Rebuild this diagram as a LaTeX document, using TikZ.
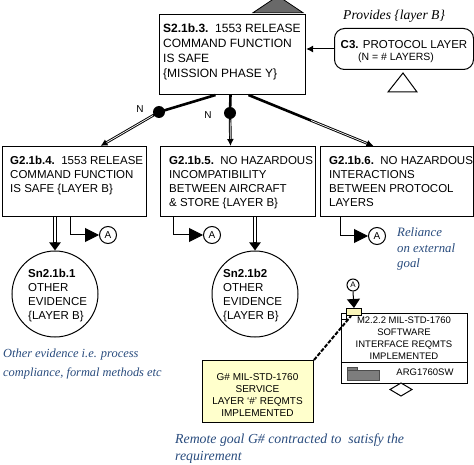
\documentclass[tikz,border=0pt]{standalone}
\usepackage{fontspec}
\setmainfont{Liberation Sans}
\newfontfamily\annfont{Liberation Serif}
\usetikzlibrary{arrows.meta,shapes.geometric,calc}
\definecolor{annblue}{RGB}{40,75,125}
\definecolor{paleyellow}{RGB}{255,255,204}
\definecolor{tagyellow}{RGB}{250,245,185}
\definecolor{foldergray}{RGB}{125,125,125}
\definecolor{undevgray}{RGB}{105,105,105}
\begin{document}
\begin{tikzpicture}[x=1pt,y=-1pt,
  boxline/.style={draw, line width=1pt, rectangle, anchor=north west, inner sep=0pt},
  stext/.style={anchor=north west, inner sep=0pt, align=left, font=\fontsize{12}{15}\selectfont},
  gtext/.style={anchor=north west, inner sep=0pt, align=left, font=\fontsize{11.5}{14}\selectfont},
  ann/.style={anchor=north west, inner sep=0pt, align=left, font=\annfont\itshape\fontsize{12.4}{19}\selectfont},
  sv/.style={line width=2.6pt},
  stripe/.style={white, line width=0.7pt},
  solvedtip/.style={-{Latex[length=7pt,width=7pt]}},
  dotn/.style={circle, fill=black, minimum size=12pt, inner sep=0pt},
  nlab/.style={inner sep=0pt, font=\fontsize{10}{12}\selectfont},
  anode/.style={draw, circle, line width=1pt, minimum size=17pt, inner sep=0pt, font=\fontsize{10}{12}\selectfont},
  aconn/.style={line width=1pt, -{Triangle[length=14pt,width=14pt]}},
  snarrow/.style={line width=4pt, -{Triangle[length=8pt,width=11pt]}},
  snstripe/.style={white, line width=1.6pt, shorten >=8pt},
  mtext/.style={inner sep=0pt, align=center, font=\fontsize{9.5}{12}\selectfont}
]
\useasboundingbox (0,0) rectangle (474,465);

% undeveloped/away triangle above S box
\begin{scope}
  \clip (0,0) rectangle (474,465);
  \draw[fill=undevgray, line width=0.8pt] (278,-4) -- (303,12.7) -- (253,12.7) -- cycle;
\end{scope}

% Strategy box
\node[boxline, minimum width=146pt, minimum height=80pt] (s3) at (159,14) {};
\node[stext] (s3t) at (163,23.8) {\textbf{S2.1b.3.}\ \ 1553 RELEASE\\COMMAND FUNCTION\\IS SAFE\\\{MISSION PHASE Y\}};

% Context
\node[boxline, rounded corners=10pt, minimum width=139pt, minimum height=41pt] (c3) at (334,28) {};
\node[inner sep=0pt, font=\fontsize{11.5}{14}\selectfont] (c3t1) at (404,45) {\textbf{C3.} PROTOCOL LAYER};
\node[inner sep=0pt, font=\fontsize{10.5}{12}\selectfont] (c3t2) at (396,58) {(N = \# LAYERS)};
\draw[line width=1pt] (403,73) -- (417,92) -- (388,92) -- cycle;
\node[ann, anchor=base west, font=\annfont\itshape\fontsize{13.6}{15}\selectfont] (prov) at (343,20) {Provides \{layer B\}};

\draw[sv, solvedtip] (c3.west) -- (c3.west -| s3.east);
\draw[stripe, shorten >=7pt] (c3.west) -- (c3.west -| s3.east);

% Goals
\node[boxline, minimum width=144pt, minimum height=70pt] (g4) at (2,146) {};
\node[gtext] (g4t) at (10,155.7) {\textbf{G2.1b.4.}\ \ 1553 RELEASE\\COMMAND FUNCTION\\IS SAFE \{LAYER B\}};
\node[boxline, minimum width=155pt, minimum height=70pt] (g5) at (160,146) {};
\node[gtext] (g5t) at (169,155.7) {\textbf{G2.1b.5.}\ \ NO HAZARDOUS\\INCOMPATIBILITY\\BETWEEN AIRCRAFT\\\& STORE \{LAYER B\}};
\node[boxline, minimum width=153pt, minimum height=70pt] (g6) at (320,146) {};
\node[gtext] (g6t) at (329,155.7) {\textbf{G2.1b.6.}\ \ NO HAZARDOUS\\INTERACTIONS\\BETWEEN PROTOCOL\\LAYERS};

% S -> G connectors
\node[dotn] (d1) at (159,112) {};
\node[dotn] (d2) at (230,113) {};
\node[nlab] (n1) at (140,109) {N};
\node[nlab] (n2) at (208,115) {N};

\draw[sv] ([xshift=-17pt]s3.south) -- (d1.center);
\draw[sv, solvedtip] (d1.center) -- ([xshift=26pt]g4.north);
\draw[stripe, shorten <=7pt, shorten >=7pt] (d1.center) -- ([xshift=26pt]g4.north);

\draw[sv] ([xshift=-2pt]s3.south) -- (d2.center);
\draw[sv, solvedtip] (d2.center) -- ([xshift=-7.5pt]g5.north);
\draw[stripe, shorten <=7pt, shorten >=7pt] (d2.center) -- ([xshift=-7.5pt]g5.north);

\draw[sv, solvedtip] ([xshift=16pt]s3.south) -- ([xshift=-23.5pt]g6.north);
\draw[stripe, shorten >=7pt] ($([xshift=16pt]s3.south)!0.5!([xshift=-23.5pt]g6.north)$) -- ([xshift=-23.5pt]g6.north);

% Away-goal references A
\node[anode] (a4) at (108,235) {A};
\node[anode] (a5) at (212,235) {A};
\node[anode] (a6) at (377,236) {A};
\draw[aconn] ([xshift=-4pt]g4.south) |- (a4.west);
\draw[aconn] ([xshift=-64.5pt]g5.south) |- (a5.west);
\draw[aconn] ([xshift=-56.5pt]g6.south) |- (a6.west);

% Solutions
\node[draw, circle, line width=1pt, minimum size=86pt, inner sep=0pt] (sn1) at (55,294) {};
\node[gtext] (sn1t) at (28,268.7) {\textbf{Sn2.1b.1}\\OTHER\\EVIDENCE\\\{LAYER B\}};
\node[draw, circle, line width=1pt, minimum size=86pt, inner sep=0pt] (sn2) at (255,294) {};
\node[gtext] (sn2t) at (223,268.7) {\textbf{Sn2.1b2}\\OTHER\\EVIDENCE\\\{LAYER B\}};
\draw[snarrow] (g4.south -| sn1.north) -- (sn1.north);
\draw[snstripe] (g4.south -| sn1.north) -- (sn1.north);
\draw[snarrow] (g5.south -| sn2.north) -- (sn2.north);
\draw[snstripe] (g5.south -| sn2.north) -- (sn2.north);

% Module M2.2.2
\node[boxline, minimum width=126pt, minimum height=70pt] (m) at (341,313) {};
\draw[line width=1pt] ($(m.north west)+(0,49)$) -- ($(m.north east)+(0,49)$);
\draw[line width=0.6pt, fill=white] (341,313) rectangle (346,319);
\node[mtext] (mt) at (404,338) {M2.2.2 MIL-STD-1760\\SOFTWARE\\INTERFACE REQMTS\\IMPLEMENTED};
\node[mtext] (marg) at (425,372) {ARG1760SW};
\draw[fill=foldergray, draw=black!70, line width=0.5pt] (347,367) rectangle (357,371);
\draw[fill=foldergray, draw=black!70, line width=0.5pt] (347,370.5) rectangle (379,380);
\draw[line width=1pt, fill=white] (401,383) -- (412,389.5) -- (401,396) -- (390,389.5) -- cycle;

\node[draw, line width=1pt, fill=tagyellow, minimum width=15pt, minimum height=7pt, inner sep=0pt, anchor=north west] (ytag) at (346,308) {};
\node[anode, minimum size=12pt, font=\fontsize{8}{9}\selectfont] (am) at (353,285) {A};
\draw[line width=1pt, -{Triangle[length=9pt,width=13pt]}] (am.south) -- (ytag.north);

% Remote goal
\node[boxline, fill=paleyellow, minimum width=111pt, minimum height=62pt] (gh) at (202,360) {};
\node[mtext, font=\fontsize{10}{12}\selectfont] (ght) at (257.5,395) {G\# MIL-STD-1760\\SERVICE\\LAYER ‘\#’ REQMTS\\IMPLEMENTED};
\draw[line width=2pt, dash pattern=on 4pt off 1.5pt] (gh.north east) -- ([xshift=-3pt]ytag.south);

% Annotations
\node[ann, text=annblue, font=\annfont\itshape\fontsize{12.8}{15.5}\selectfont] (rel) at (397,227.8) {Reliance\\on external\\goal};
\node[ann, text=annblue] (oth) at (3,348.3) {Other evidence i.e. process\\compliance, formal methods etc};
\node[ann, text=annblue, font=\annfont\itshape\fontsize{13.8}{17}\selectfont] (rem) at (175,433.3) {Remote goal G\# contracted to\ \ satisfy the\\requirement};
\end{tikzpicture}
\end{document}
